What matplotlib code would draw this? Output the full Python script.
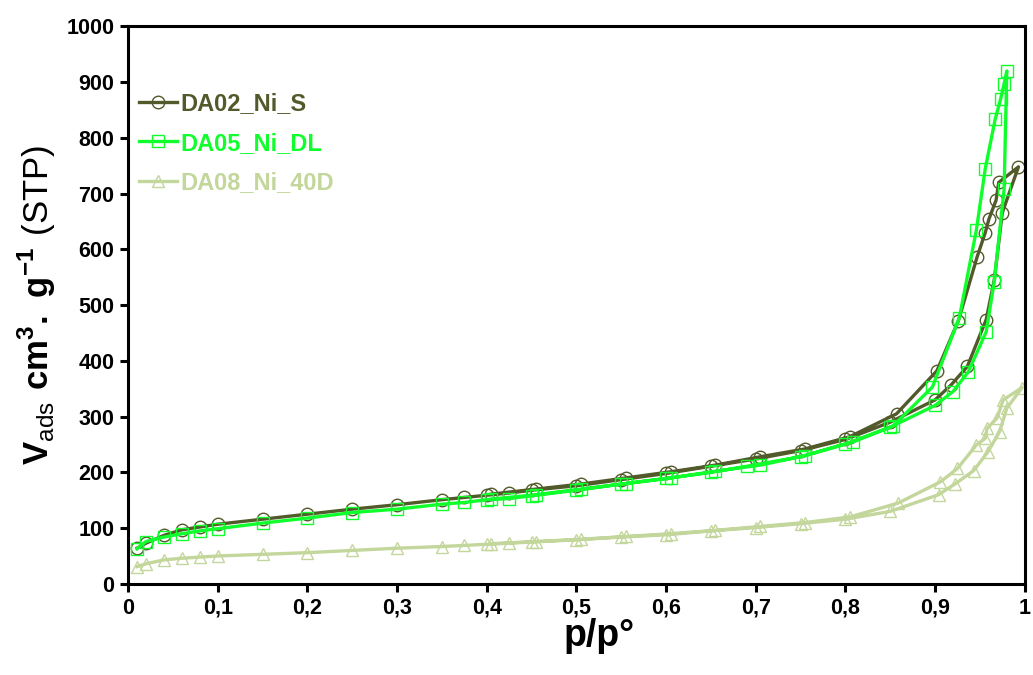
import matplotlib
matplotlib.use("Agg")
from matplotlib import pyplot as plt

plt.rcParams['font.family'] = ['Liberation Sans', 'DejaVu Sans']
plt.rcParams['mathtext.fontset'] = 'custom'
plt.rcParams['mathtext.rm'] = 'Liberation Sans'
plt.rcParams['mathtext.bf'] = 'Liberation Sans:bold'

# adsorption branch (increasing p) and desorption branch (decreasing p)
da02_ads_p = [0.01, 0.02, 0.04, 0.06, 0.08, 0.10, 0.15, 0.20, 0.25, 0.30, 0.35, 0.375, 0.40, 0.425, 0.45,
              0.50, 0.55, 0.60, 0.65, 0.70, 0.75, 0.80, 0.85, 0.90, 0.918, 0.936, 0.957, 0.966, 0.975, 0.993]
da02_ads_v = [64, 73, 87, 97, 102, 107, 116, 125, 134, 142, 151, 155, 159, 163, 168,
              176, 187, 198, 211, 224, 239, 259, 290, 330, 357, 390, 474, 545, 666, 748]
da02_des_p = [0.971, 0.968, 0.960, 0.956, 0.947, 0.926, 0.902, 0.857, 0.805, 0.755, 0.705, 0.655, 0.605,
              0.555, 0.505, 0.455, 0.405]
da02_des_v = [720, 688, 654, 630, 587, 472, 382, 305, 264, 242, 228, 213, 201, 190, 179, 170, 161]

da05_ads_p = [0.01, 0.02, 0.04, 0.06, 0.08, 0.10, 0.15, 0.20, 0.25, 0.30, 0.35, 0.375, 0.40, 0.425, 0.45,
              0.50, 0.55, 0.60, 0.65, 0.69, 0.75, 0.80, 0.85, 0.90, 0.92, 0.937, 0.957, 0.966, 0.977, 0.98]
da05_ads_v = [63, 76, 84, 90, 95, 99, 109, 118, 128, 134, 143, 146, 151, 153, 158,
              168, 179, 189, 200, 211, 228, 251, 281, 320, 345, 380, 452, 542, 708, 920]
da05_des_p = [0.977, 0.973, 0.967, 0.956, 0.946, 0.927, 0.897, 0.853, 0.809, 0.755, 0.705, 0.655, 0.605,
              0.555, 0.505, 0.455, 0.405]
da05_des_v = [897, 869, 833, 745, 634, 477, 353, 283, 255, 230, 213, 202, 190, 180, 170, 160, 152]

da08_ads_p = [0.01, 0.02, 0.04, 0.06, 0.08, 0.10, 0.15, 0.20, 0.25, 0.30, 0.35, 0.375, 0.40, 0.425, 0.45,
              0.50, 0.55, 0.60, 0.65, 0.70, 0.75, 0.80, 0.85, 0.904, 0.922, 0.943, 0.959, 0.972, 0.98, 0.997]
da08_ads_v = [31, 36, 43, 46, 48, 50, 53, 56, 60, 64, 67, 69, 71, 73, 75,
              79, 84, 88, 95, 101, 108, 116, 130, 160, 179, 203, 237, 273, 315, 352]
da08_des_p = [0.976, 0.969, 0.958, 0.956, 0.946, 0.925, 0.906, 0.859, 0.805, 0.755, 0.705, 0.655, 0.605,
              0.555, 0.505, 0.455, 0.405]
da08_des_v = [330, 297, 279, 261, 249, 207, 183, 145, 120, 110, 103, 96, 90, 85, 80, 76, 72]

labels = ['DA02_Ni_S', 'DA05_Ni_DL', 'DA08_Ni_40D']
colors = ['#525A2B', '#10FF2C', '#C3D69B']
markers = ['o', 's', '^']

x_ticks = [0, 0.1, 0.2, 0.3, 0.4, 0.5, 0.6, 0.7, 0.8, 0.9, 1.0]
x_ticklabels = ['0', '0,1', '0,2', '0,3', '0,4', '0,5', '0,6', '0,7', '0,8', '0,9', '1']
y_ticks = list(range(0, 1001, 100))

series = [
    (da02_ads_p + da02_des_p, da02_ads_v + da02_des_v),
    (da05_ads_p + da05_des_p, da05_ads_v + da05_des_v),
    (da08_ads_p + da08_des_p, da08_ads_v + da08_des_v),
]

fig = plt.figure(figsize=(10.33, 6.75), dpi=100)
ax = fig.add_axes([0.124, 0.135, 0.868, 0.826])

for (x, y), lab, c, m in zip(series, labels, colors, markers):
    ax.plot(x, y, color=c, lw=2.4, marker=m, ms=9, mfc='none', mec=c, mew=1.0, label=lab)

ax.set_xlim(0, 1)
ax.set_ylim(0, 1000)
ax.set_xticks(x_ticks)
ax.set_xticklabels(x_ticklabels)
ax.set_yticks(y_ticks)
for sp in ax.spines.values():
    sp.set_linewidth(2.2)
ax.tick_params(direction='out', length=6, width=2.2, labelsize=15.5, pad=4)
for t in ax.get_xticklabels() + ax.get_yticklabels():
    t.set_fontweight('bold')

ax.set_xlabel('p/p°', fontsize=27, fontweight='bold')
ax.xaxis.set_label_coords(0.525, -0.062)
ax.set_ylabel(r'$\mathbf{V}_{\mathrm{ads}}\ \mathbf{cm}^{\mathbf{3}}\mathbf{.\ g}^{\mathbf{-1}}\ \mathrm{(STP)}$',
              fontsize=25, labelpad=6)

leg = ax.legend(loc='upper left', bbox_to_anchor=(0.012, 0.882), frameon=False, numpoints=1,
                handlelength=1.6, handletextpad=0.15, labelspacing=0.7, borderpad=0, borderaxespad=0,
                prop={'size': 17, 'weight': 'bold'}, labelcolor='linecolor')

fig.savefig('out.png', dpi=100)
